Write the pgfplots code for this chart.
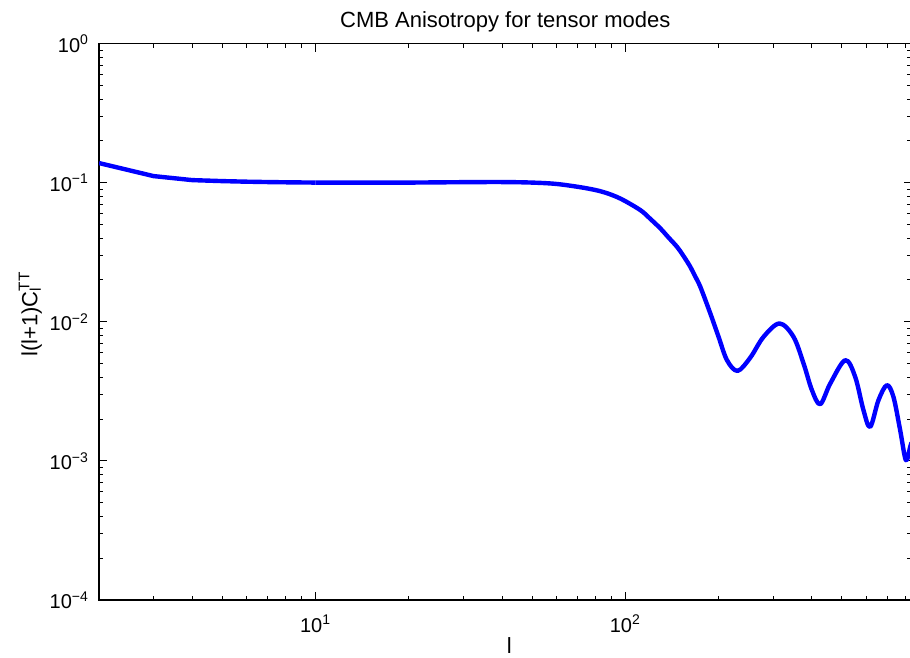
\documentclass[border=0pt]{standalone}
\usepackage{fontspec}
\setmainfont{Liberation Sans}
\usepackage{pgfplots}
\pgfplotsset{compat=1.18}
\begin{document}
\begin{tikzpicture}
\begin{axis}[
  scale only axis,
  width=406.25pt, height=278.15pt,
  xmode=log, ymode=log,
  xmin=2, xmax=839, ymin=1e-4, ymax=1,
  font=\fontsize{10}{12}\selectfont,
  axis line style={black, line width=0.6pt},
  tick style={black, line width=0.5pt},
  tick align=inside,
  major tick length=4pt, minor tick length=2.2pt,
  xtick={10,100},
  xticklabels={10\textsuperscript{1},10\textsuperscript{2}},
  minor xtick={2,3,4,5,6,7,8,9,20,30,40,50,60,70,80,90,200,300,400,500,600,700,800},
  ytick={1e-4,1e-3,1e-2,1e-1,1},
  yticklabels={10\textsuperscript{−4},10\textsuperscript{−3},10\textsuperscript{−2},10\textsuperscript{−1},10\textsuperscript{0}},
  minor ytick={2e-4,3e-4,4e-4,5e-4,6e-4,7e-4,8e-4,9e-4,2e-3,3e-3,4e-3,5e-3,6e-3,7e-3,8e-3,9e-3,2e-2,3e-2,4e-2,5e-2,6e-2,7e-2,8e-2,9e-2,0.2,0.3,0.4,0.5,0.6,0.7,0.8,0.9},
  xticklabel style={anchor=base, yshift=-16pt},
  yticklabel style={anchor=east, xshift=-1.5pt},
  title={CMB Anisotropy for tensor modes},
  title style={at={(axis description cs:0.5,1)}, anchor=base, yshift=1.9pt, font=\fontsize{11}{13}\selectfont},
  xlabel={l},
  xlabel style={at={(axis description cs:0.5,0)}, anchor=base, yshift=-26.5pt, xshift=2pt, font=\fontsize{11}{13}\selectfont},
  ylabel={l(l+1)C\rlap{\textsuperscript{TT}}\textsubscript{l}},
  ylabel style={at={(axis description cs:-0.0845,0.5)}, anchor=center, font=\fontsize{11}{13}\selectfont},
]
\addplot[blue, line width=2.2pt, line join=round] coordinates {
 (2,0.1386) (3,0.1117) (4,0.1045) (5,0.1028) (6,0.1018) (7,0.1012) (8,0.1008) (10,0.1003)
};
\addplot[blue, line width=2.2pt, smooth, tension=0.55, line join=round] coordinates {
 (10,0.1003) (15,0.1002) (20,0.1003) (30,0.1010) (40,0.1012) (50,0.1003)
 (60.4,0.0979) (74.3,0.0916) (85.0,0.0857) (96.36,0.0770) (111.8,0.0636) (120.4,0.0550)
 (129.7,0.0470) (137.6,0.0406) (146.9,0.0346) (153.8,0.02995) (162.1,0.02486) (168.2,0.02114)
 (174.6,0.01786) (188.1,0.01149) (200.0,0.0078)
 (212.9,0.0053) (230.3,0.00444) (253.1,0.00553) (279.3,0.0078) (314.6,0.00974)
 (349.1,0.0078) (376.1,0.00502) (400.2,0.00323) (425.6,0.00256) (458.6,0.0036)
 (512.6,0.0053) (552.1,0.00402) (587.0,0.00232) (617.0,0.001757) (656.3,0.002734)
 (698.6,0.003504) (733.7,0.002887) (771.2,0.001663) (804.6,0.001012) (830.6,0.00126)
 (839,0.00136)
};
\end{axis}
\pgfresetboundingbox
\path (current axis.south west) ++(-49.5pt,-29pt) rectangle ([shift={(-0.75pt,21.85pt)}]current axis.north east);
\end{tikzpicture}
\end{document}
